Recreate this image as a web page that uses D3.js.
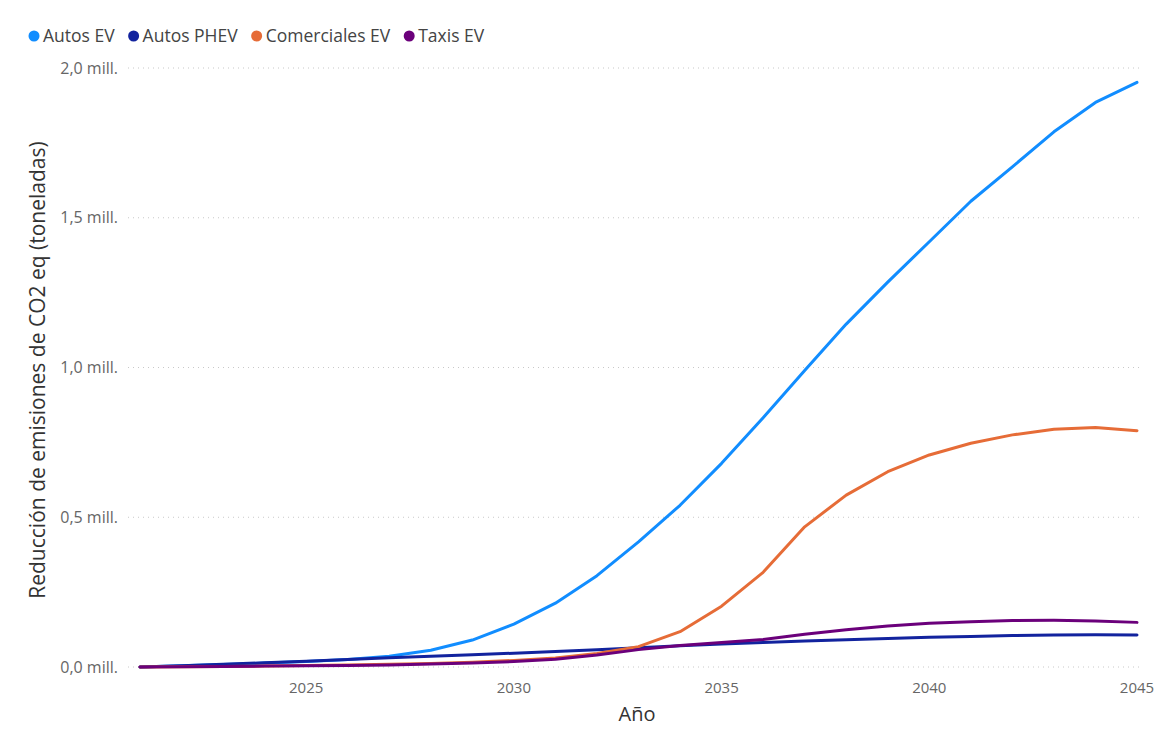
<!DOCTYPE html>
<html><head><meta charset="utf-8">
<script src="https://cdn.jsdelivr.net/npm/d3@7"></script>
<style>
body{margin:0;background:#fff;}
text{font-family:"Segoe UI","Open Sans","Noto Sans",sans-serif;}
</style></head>
<body><svg id="c" width="1175" height="730"></svg>
<script>
const years = d3.range(2021, 2046);
const seriesNames = ["Autos EV","Autos PHEV","Comerciales EV","Taxis EV"];
const seriesColors = ["#118DFF","#12239E","#E66C37","#6B007B"];
const autosEV = [0,0.004,0.008,0.013,0.018,0.025,0.036,0.056,0.09,0.143,0.213,0.305,0.418,0.54,0.68,0.832,0.99,1.145,1.285,1.42,1.555,1.67,1.787,1.885,1.952];
const autosPHEV = [0,0.004,0.009,0.014,0.019,0.025,0.031,0.036,0.041,0.046,0.052,0.058,0.064,0.071,0.077,0.082,0.087,0.091,0.095,0.099,0.102,0.105,0.107,0.108,0.107];
const comercialesEV = [0,0.001,0.002,0.003,0.005,0.007,0.009,0.012,0.016,0.022,0.03,0.045,0.068,0.118,0.203,0.316,0.468,0.574,0.652,0.708,0.747,0.775,0.794,0.800,0.789];
const taxisEV = [0,0.001,0.002,0.003,0.004,0.005,0.007,0.01,0.013,0.018,0.026,0.04,0.058,0.072,0.082,0.092,0.109,0.124,0.137,0.146,0.151,0.155,0.156,0.154,0.149];
const xTicks = [2025,2030,2035,2040,2045];
const yTicks = [0,0.5,1.0,1.5,2.0];
const yTickLabels = ["0,0 mill.","0,5 mill.","1,0 mill.","1,5 mill.","2,0 mill."];
const yTitle = "Reducción de emisiones de CO2 eq (toneladas)";
const xTitle = "Año";

const allSeries = [autosEV, autosPHEV, comercialesEV, taxisEV];
const svg = d3.select("#c");
const x = d3.scaleLinear().domain([2021,2045]).range([140,1137]);
const y = d3.scaleLinear().domain([0,2]).range([667,68]);

// gridlines
svg.append("g").selectAll("line").data(yTicks).join("line")
  .attr("x1",128).attr("x2",1143)
  .attr("y1",d=>y(d)).attr("y2",d=>y(d))
  .attr("stroke","#c8c8c8").attr("stroke-width",1).attr("stroke-dasharray","1,4");

// y labels
svg.append("g").selectAll("text").data(yTicks).join("text")
  .attr("x",118).attr("y",d=>y(d)).attr("dy","0.35em")
  .attr("text-anchor","end").attr("font-size",16).attr("fill","#666")
  .text((d,i)=>yTickLabels[i]);

// x labels
svg.append("g").selectAll("text").data(xTicks).join("text")
  .attr("x",d=>x(d)).attr("y",693)
  .attr("text-anchor","middle").attr("font-size",15).attr("fill","#666")
  .text(d=>d);

// titles
svg.append("text").attr("x",637).attr("y",721).attr("text-anchor","middle")
  .attr("font-size",20).attr("fill","#333").text(xTitle);
svg.append("text").attr("transform","translate(45,370) rotate(-90)")
  .attr("text-anchor","middle").attr("font-size",21).attr("fill","#333").text(yTitle);

// lines
const line = d3.line().x((d,i)=>x(years[i])).y(d=>y(d));
svg.append("g").selectAll("path").data(allSeries).join("path")
  .attr("d",d=>line(d)).attr("fill","none")
  .attr("stroke",(d,i)=>seriesColors[i]).attr("stroke-width",3)
  .attr("stroke-linejoin","round").attr("stroke-linecap","round");

// legend
const lg = svg.append("g");
let lx = 34;
seriesNames.forEach((n,i)=>{
  lg.append("circle").attr("cx",lx).attr("cy",36).attr("r",5.5).attr("fill",seriesColors[i]);
  const t = lg.append("text").attr("x",lx+9).attr("y",36).attr("dy","0.35em")
    .attr("font-size",17.5).attr("fill","#444").text(n);
  lx += 9 + t.node().getComputedTextLength() + 19;
});
</script></body></html>
